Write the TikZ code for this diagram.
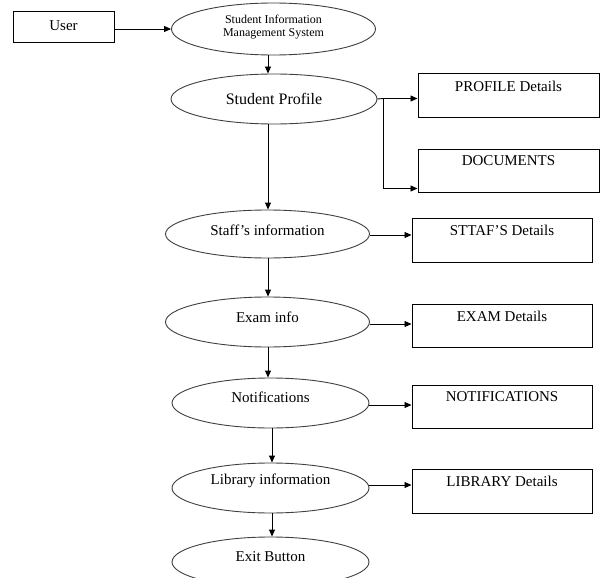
\documentclass[tikz,border=0pt]{standalone}
\usepackage{fontspec}
\setmainfont{Liberation Serif}
\usetikzlibrary{arrows.meta,shapes.geometric}

\tikzset{
  oval/.style={draw=black!75, line width=0.9pt, ellipse, inner sep=0pt,
    minimum width=204pt, minimum height=50pt},
  infobox/.style={draw=black, line width=1pt, rectangle, inner sep=0pt,
    minimum width=180pt, minimum height=43pt},
  caption/.style={font=\fontsize{15}{18}\selectfont, inner sep=0pt},
  flow/.style={draw=black, line width=0.9pt, -{Triangle[length=7pt,width=6pt]}},
  plain/.style={draw=black, line width=0.9pt}
}

\begin{document}
\begin{tikzpicture}[x=1pt,y=-1pt]
  \clip (0,0) rectangle (600,578);
  \fill[white] (0,0) rectangle (600,578);

  % entry point
  \node[infobox, minimum width=101pt, minimum height=31pt,
        label={[caption, yshift=2pt]center:User}] (user) at (63.5,27.5) {};

  % main chain of processes
  \node[oval, minimum width=204pt, minimum height=52pt,
        label={[font=\fontsize{12}{13}\selectfont, align=center, inner sep=0pt, yshift=2pt]center:Student Information\\Management System}]
        (sims) at (273.5,29) {};
  \node[oval, minimum width=206pt, label={[caption, font=\fontsize{16}{18}\selectfont]center:Student Profile}]
        (prof) at (274,99) {};
  \node[oval, minimum height=48pt, label={[caption, yshift=4pt]center:Staff’s information}]
        (staff) at (267.5,234) {};
  \node[oval, label={[caption, yshift=5pt]center:Exam info}]
        (exam) at (267.5,322) {};
  \node[oval, minimum width=197pt, label={[caption, yshift=6pt]center:Notifications}]
        (notif) at (270.5,403) {};
  \node[oval, minimum width=197pt, label={[caption, yshift=7pt]center:Library information}]
        (lib) at (270.5,488) {};
  \node[oval, minimum width=197pt, label={[caption, yshift=5pt]center:Exit Button}]
        (exit) at (270.5,562) {};

  % detail boxes
  \node[infobox, minimum width=181pt, label={[caption, anchor=north, yshift=-7pt]north:PROFILE Details}]
        (profd) at (508.5,95.5) {};
  \node[infobox, minimum width=181pt, label={[caption, anchor=north, yshift=-7pt]north:DOCUMENTS}]
        (docs) at (508.5,170.5) {};
  \node[infobox, minimum height=44pt, label={[caption, anchor=north, yshift=-7pt]north:STTAF’S Details}]
        (staffd) at (502,240) {};
  \node[infobox, label={[caption, anchor=north, yshift=-7pt]north:EXAM Details}]
        (examd) at (502,325.5) {};
  \node[infobox, label={[caption, anchor=north, yshift=-7pt]north:NOTIFICATIONS}]
        (notifd) at (502,406.5) {};
  \node[infobox, minimum height=44pt, label={[caption, anchor=north, yshift=-7pt]north:LIBRARY Details}]
        (libd) at (502,491) {};

  % vertical spines
  \coordinate (spine) at (268,0);
  \coordinate (spineb) at (272,0);
  \coordinate (fork) at (383,98.5);

  % connectors
  \draw[flow] (user.east |- 0,29) -- (sims.west |- 0,29);
  \draw[flow] (sims.south -| spine) -- (prof.north -| spine);

  \draw[plain] (prof.east) -- (fork);
  \draw[flow] (fork) -- (fork -| profd.west);
  \draw[flow] (fork) |- ([yshift=4pt]docs.south west);

  \draw[flow] (prof.south -| spine) -- (staff.north -| spine);
  \draw[flow] ([yshift=-1pt]staff.east) -- ([yshift=-1pt]staff.east -| staffd.west);

  \draw[flow] (staff.south -| spine) -- (exam.north -| spine);
  \draw[flow] ([yshift=-2pt]exam.east) -- ([yshift=-2pt]exam.east -| examd.west);

  \draw[flow] (exam.south -| spine) -- (notif.north -| spine);
  \draw[flow] ([yshift=-2pt]notif.east) -- ([yshift=-2pt]notif.east -| notifd.west);

  \draw[flow] (notif.south -| spineb) -- (lib.north -| spineb);
  \draw[flow] ([yshift=3pt]lib.east) -- ([yshift=3pt]lib.east -| libd.west);

  \draw[flow] (lib.south -| spineb) -- (exit.north -| spineb);
\end{tikzpicture}
\end{document}
